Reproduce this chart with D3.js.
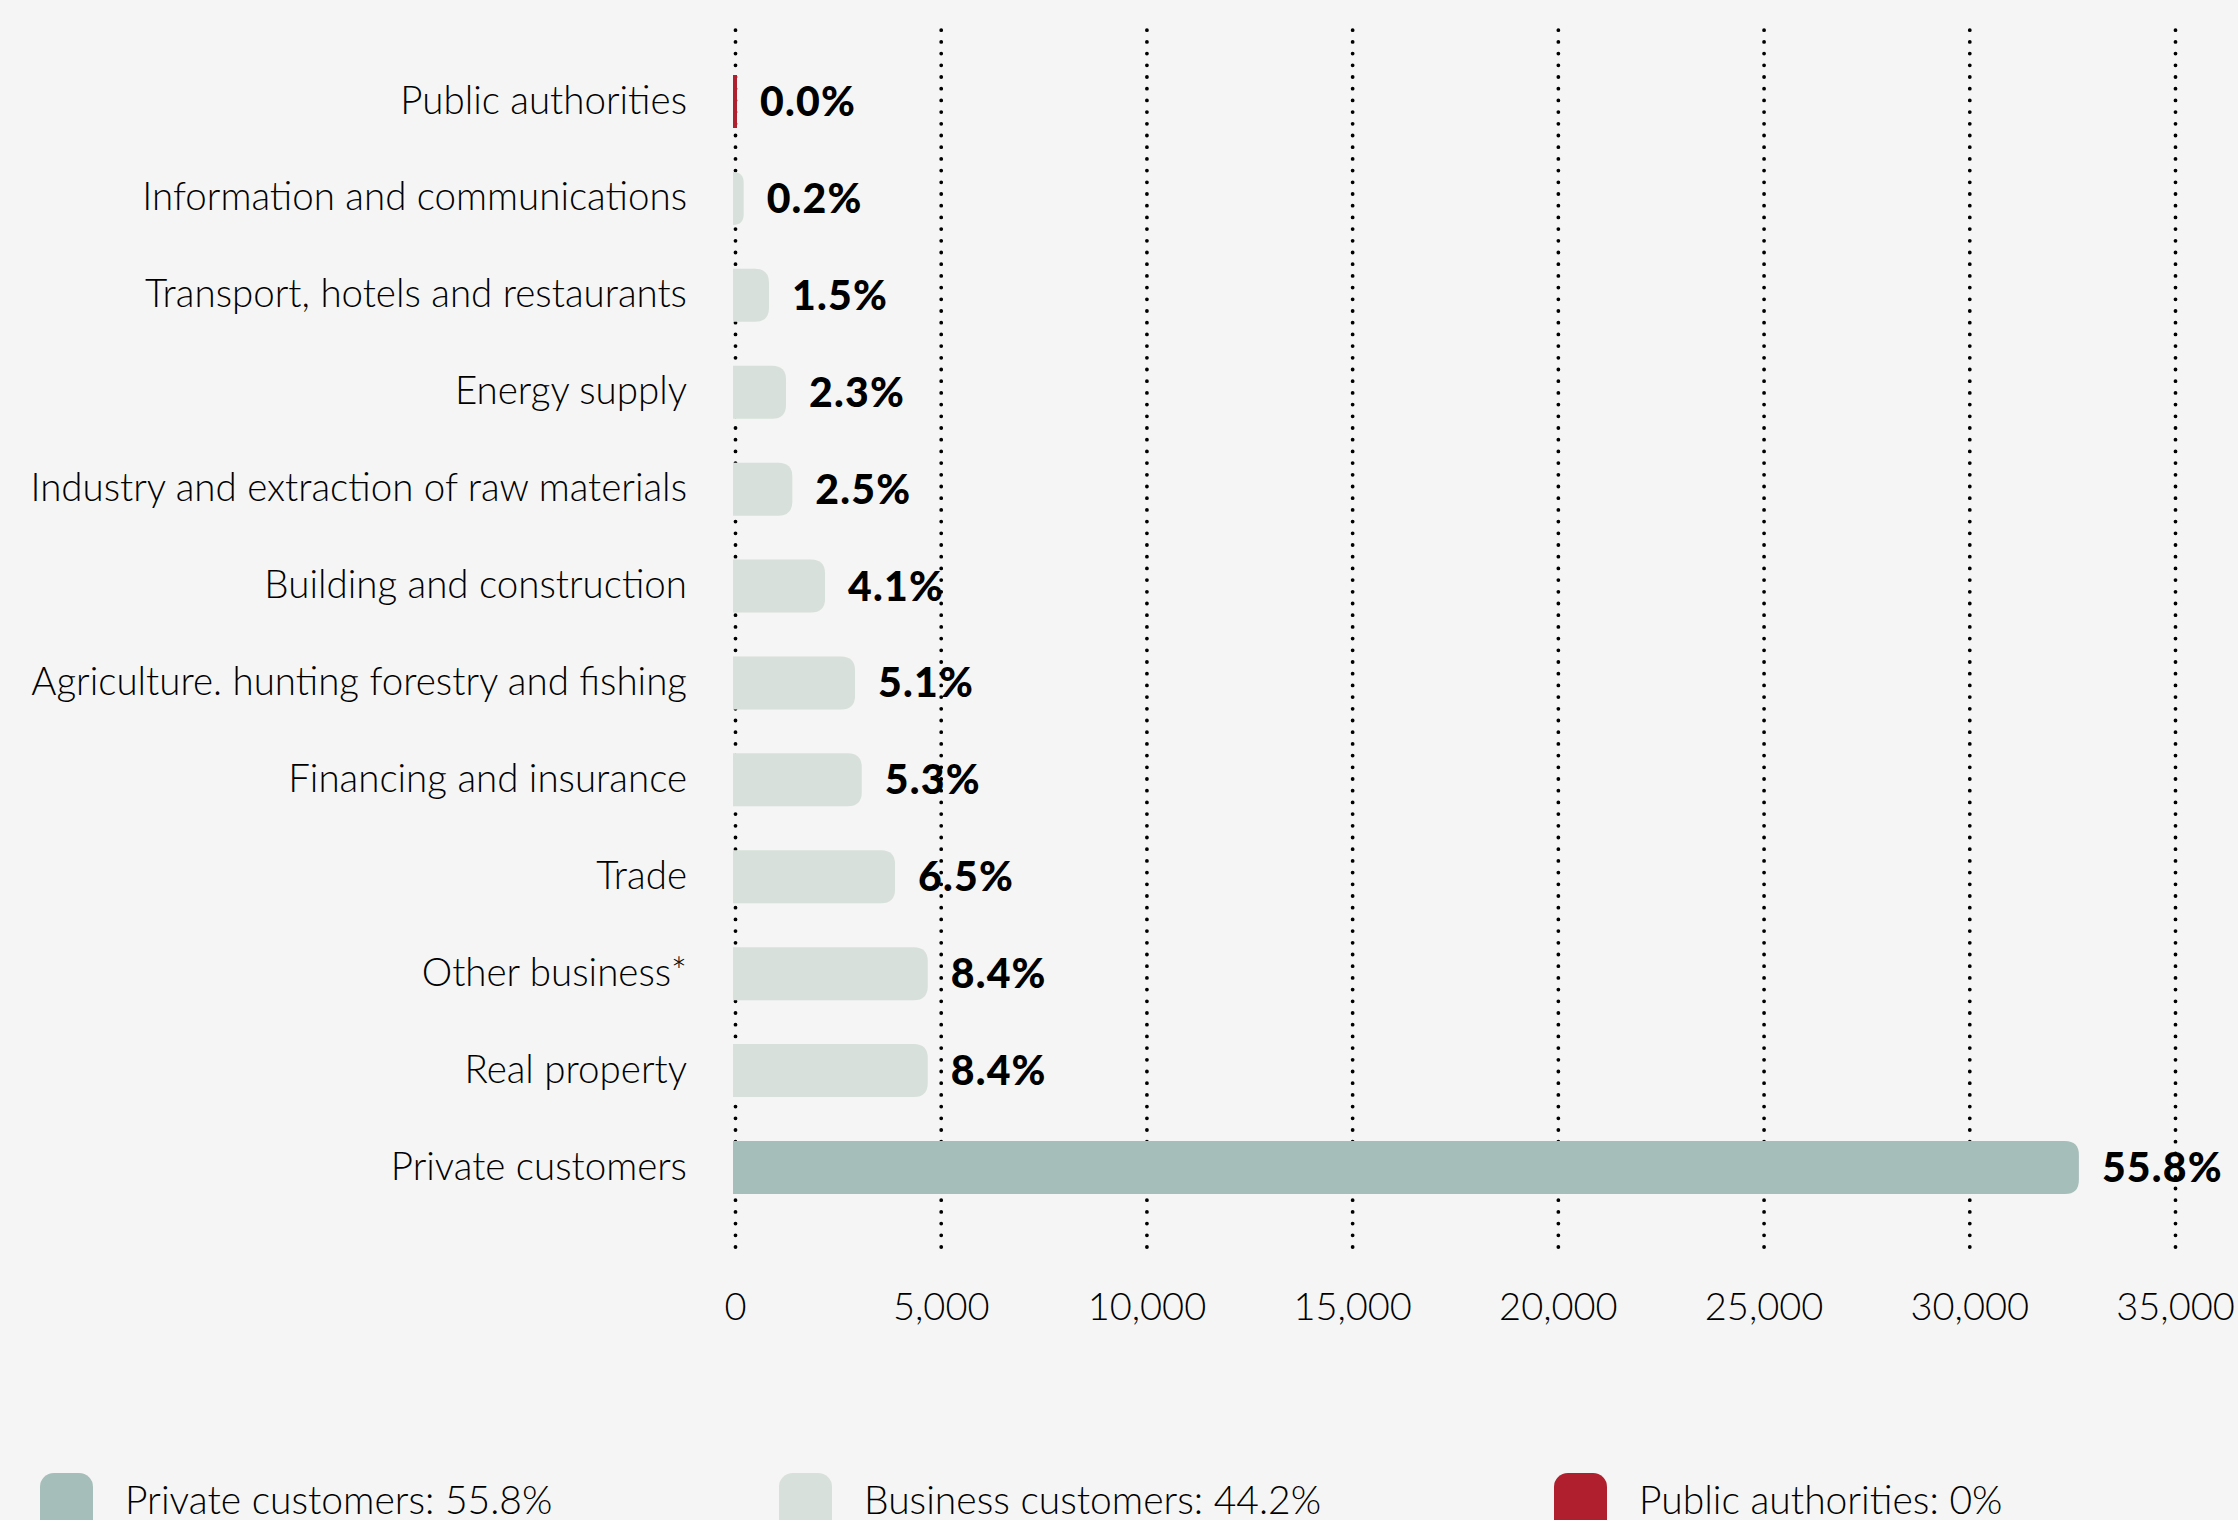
<!DOCTYPE html>
<meta charset="utf-8">
<style>
body { margin: 0; background: #f4f5f4; }
text { font-family: Lato, "Open Sans", sans-serif; fill: #000; }
</style>
<body>
<script src="https://cdn.jsdelivr.net/npm/d3@7"></script>
<script>
var categories = ["Public authorities", "Information and communications", "Transport, hotels and restaurants",
    "Energy supply", "Industry and extraction of raw materials", "Building and construction",
    "Agriculture. hunting forestry and fishing", "Financing and insurance", "Trade",
    "Other business*", "Real property", "Private customers"],
    values = [0, 210, 826, 1240, 1393, 2188, 2917, 3080, 3889, 4684, 4684, 32664],
    shares = ["0.0%", "0.2%", "1.5%", "2.3%", "2.5%", "4.1%", "5.1%", "5.3%", "6.5%", "8.4%", "8.4%", "55.8%"],
    groups = ["public", "business", "business", "business", "business", "business",
    "business", "business", "business", "business", "business", "private"],
    ticks = [0, 5000, 10000, 15000, 20000, 25000, 30000, 35000];

var legendKeys = ["private", "business", "public"],
    legendLabels = ["Private customers: 55.8%", "Business customers: 44.2%", "Public authorities: 0%"];

var colors = {private: "#a6beb9", business: "#d7e0da", public: "#b01f2e"};

var width = 2238,
    height = 1520,
    barH = 53;

var svg = d3.select("body").append("svg")
    .attr("width", width)
    .attr("height", height);

var x = d3.scaleLinear().domain([0, 35000]).range([735, 2175]);
var y = d3.scalePoint().domain(categories).range([101.5, 1167.5]);

// dotted grid + tick labels
var axis = svg.append("g")
    .attr("transform", "translate(0,1247)")
    .call(d3.axisBottom(x).tickValues(ticks).tickSize(-1226).tickFormat(d3.format(",")));
axis.select(".domain").remove();
axis.selectAll("line")
    .attr("stroke", "#000")
    .attr("stroke-width", 3.8)
    .attr("stroke-linecap", "round")
    .attr("stroke-dasharray", "0,11.7");
axis.selectAll("text")
    .attr("y", 73)
    .attr("dy", null)
    .style("font-size", "38px")
    .style("font-weight", 300)
    .style("font-family", "Lato, sans-serif")
    .attr("fill", "#000");

// bars, square on the left and rounded on the right
function barPath(x0, yc, w) {
    var r = w < 6 ? 0 : Math.min(14, w), y0 = yc - barH / 2;
    return "M" + x0 + "," + y0 + "H" + (x0 + w - r)
        + "Q" + (x0 + w) + "," + y0 + " " + (x0 + w) + "," + (y0 + r)
        + "V" + (y0 + barH - r)
        + "Q" + (x0 + w) + "," + (y0 + barH) + " " + (x0 + w - r) + "," + (y0 + barH)
        + "H" + x0 + "Z";
}

var rows = svg.append("g").selectAll("g")
    .data(categories)
    .enter().append("g");

rows.append("path")
    .attr("d", function(d, i) {
        var w = Math.max(4, x(values[i]) - x(0) + 2);
        return barPath(x(0) - 2, y(d), w); })
    .attr("fill", function(d, i) { return colors[groups[i]]; });

rows.append("text")
    .text(function(d) { return d; })
    .attr("x", 687)
    .attr("y", function(d) { return y(d) + 12; })
    .attr("text-anchor", "end")
    .style("font-size", "38.5px")
    .style("font-weight", 300);

rows.append("text")
    .text(function(d, i) { return shares[i]; })
    .attr("x", function(d, i) { return Math.max(x(values[i]), x(0) + 2) + 23; })
    .attr("y", function(d) { return y(d) + 14.5; })
    .style("font-size", "41px")
    .style("font-weight", 900)
    .style("letter-spacing", "1.2px");

// legend
var legendX = [40, 779, 1554];
var legend = svg.append("g").selectAll("g")
    .data(legendKeys)
    .enter().append("g")
    .attr("transform", function(d, i) { return "translate(" + legendX[i] + ",1473)"; });

legend.append("rect")
    .attr("width", 53)
    .attr("height", 80)
    .attr("rx", 14)
    .attr("fill", function(d) { return colors[d]; });

legend.append("text")
    .text(function(d, i) { return legendLabels[i]; })
    .attr("x", 85)
    .attr("y", 41)
    .style("font-size", "39px")
    .style("font-weight", 300);
</script>
</body>
